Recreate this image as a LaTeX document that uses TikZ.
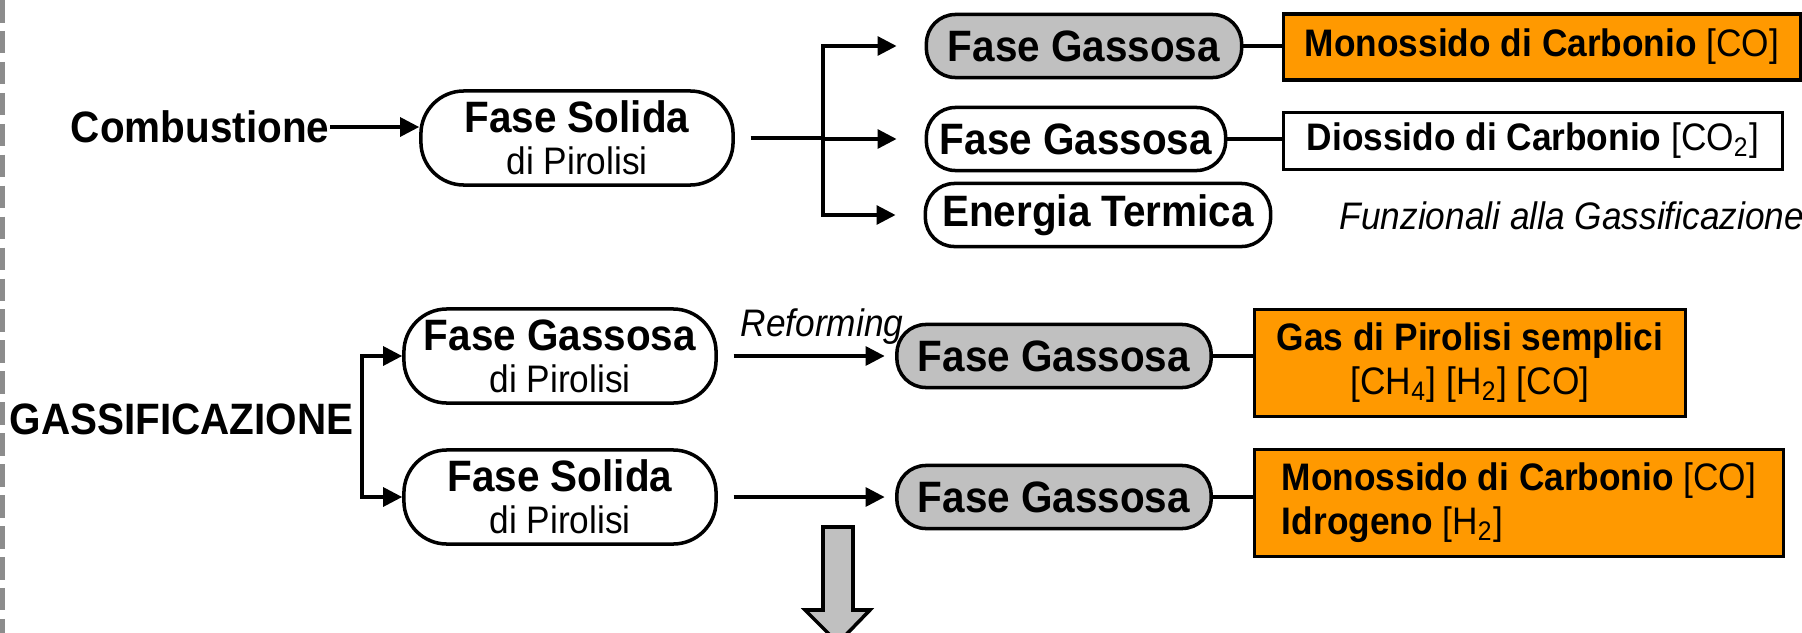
\documentclass[tikz,border=0pt]{standalone}
\usepackage{fontspec}
\setmainfont[FakeStretch=0.92]{Liberation Sans}
\usepackage{tikz}
\usetikzlibrary{arrows.meta,positioning}
\definecolor{gorange}{RGB}{255,153,0}
\definecolor{ggray}{RGB}{192,192,192}
\definecolor{gedge}{RGB}{140,140,140}
\newcommand{\gtitle}{\bfseries\fontsize{12.5}{13}\selectfont}
\newcommand{\gsub}{\normalfont\fontsize{10.9}{12.5}\selectfont}
\tikzstyle{heading} = [font=\gtitle, inner sep=0pt]
\tikzstyle{remark} = [font=\gsub\itshape, inner sep=0pt]
\tikzstyle{phase} = [rectangle, rounded corners=2.9mm, minimum height=0.63cm, inner sep=0pt, draw=black, line width=1pt, font=\gtitle, text centered]
\tikzstyle{gasphase} = [phase, fill=ggray]
\tikzstyle{pyro} = [rectangle, rounded corners=4.3mm, minimum width=3.12cm, minimum height=0.94cm, inner sep=0pt, draw=black, line width=1pt, font=\gtitle, align=center]
\tikzstyle{product} = [rectangle, draw=black, line width=0.9pt, inner sep=0pt, font=\gsub]
\tikzstyle{arrow} = [line width=0.9pt, -{Triangle[length=5.4pt,width=5.4pt]}]
\tikzstyle{link} = [line width=0.9pt]

\begin{document}
\begin{tikzpicture}[x=0.01cm, y=-0.01cm]
\path[use as bounding box, clip] (0,0) rectangle (1802,633);
\fill[white] (0,0) rectangle (1802,633);
\draw[gedge, line width=1.4pt, dash pattern=on 6.4pt off 2.4pt] (2.5,0) -- (2.5,633);

% Combustione
\node[heading, anchor=east] (comb) at (330,127) {Combustione};
\node[pyro] (fs1) at (577,138) {Fase Solida\\[-1pt]{\gsub di Pirolisi}};
\draw[arrow] (comb.east) -- (comb.east -| fs1.west);

% products of the combustion
\node[gasphase, minimum width=3.15cm] (fg1) at (1084,46) {Fase Gassosa};
\node[phase, minimum width=2.99cm] (fg2) at (1076,139) {Fase Gassosa};
\node[phase, minimum width=3.45cm] (et) at (1098,215) {Energia Termica};
\node[product, fill=gorange, minimum width=5.16cm, minimum height=0.66cm] (co1) at (1542,47) {\textbf{Monossido di Carbonio} [CO]};
\node[product, minimum width=4.99cm, minimum height=0.57cm] (co2) at (1533,141) {\textbf{Diossido di Carbonio} [CO\textsubscript{2}]};
\node[remark, anchor=west] (funz) at (1339,216) {Funzionali alla Gassificazione};

\coordinate (split1) at (823,138);
\draw[link] ([xshift=4.5pt]fs1.east) -- (split1);
\draw[arrow] (split1) |- ([xshift=-8pt]fg1.west);
\draw[arrow] (split1) |- ([xshift=-8pt]fg2.west);
\draw[arrow] (split1) |- ([xshift=-8pt]et.west);
\draw[link] (fg1.east) -- (fg1.east -| co1.west);
\draw[link] (fg2.east) -- (fg2.east -| co2.west);

% Gassificazione
\node[heading, anchor=west] (gass) at (9,419) {GASSIFICAZIONE};
\node[pyro] (fgp) at (560,356) {Fase Gassosa\\[-1pt]{\gsub di Pirolisi}};
\node[pyro] (fsp) at (560,497) {Fase Solida\\[-1pt]{\gsub di Pirolisi}};
\coordinate (split2) at (362,419);
\draw[arrow] (split2) |- (fgp.west);
\draw[arrow] (split2) |- (fsp.west);

\node[gasphase, minimum width=3.14cm] (fg3) at (1054,356) {Fase Gassosa};
\node[gasphase, minimum width=3.14cm] (fg4) at (1054,497) {Fase Gassosa};
\node[remark] (reform) at (822,327) {Reforming};
\draw[arrow] ([xshift=4.5pt]fgp.east) -- ([xshift=-3pt]fg3.west);
\draw[arrow] ([xshift=4.5pt]fsp.east) -- ([xshift=-3pt]fg4.west);

\node[product, fill=gorange, minimum width=4.30cm, minimum height=1.07cm, align=center] (gp) at (1470,363) {\textbf{Gas di Pirolisi semplici}\\[0pt] [CH\textsubscript{4}] [H\textsubscript{2}] [CO]};
\node[product, fill=gorange, minimum width=5.28cm, minimum height=1.07cm, align=left] (coh) at (1519,503) {\textbf{Monossido di Carbonio} [CO]\\[0pt] \textbf{Idrogeno} [H\textsubscript{2}]};
\draw[link] (fg3.east) -- (fg3.east -| gp.west);
\draw[link] (fg4.east) -- (fg4.east -| coh.west);

% freccia verso il basso
\draw[line width=1pt, fill=ggray] (823,527) -- (853,527) -- (853,610) -- (870,610) -- (838,643) -- (805,610) -- (823,610) -- cycle;
\end{tikzpicture}
\end{document}
